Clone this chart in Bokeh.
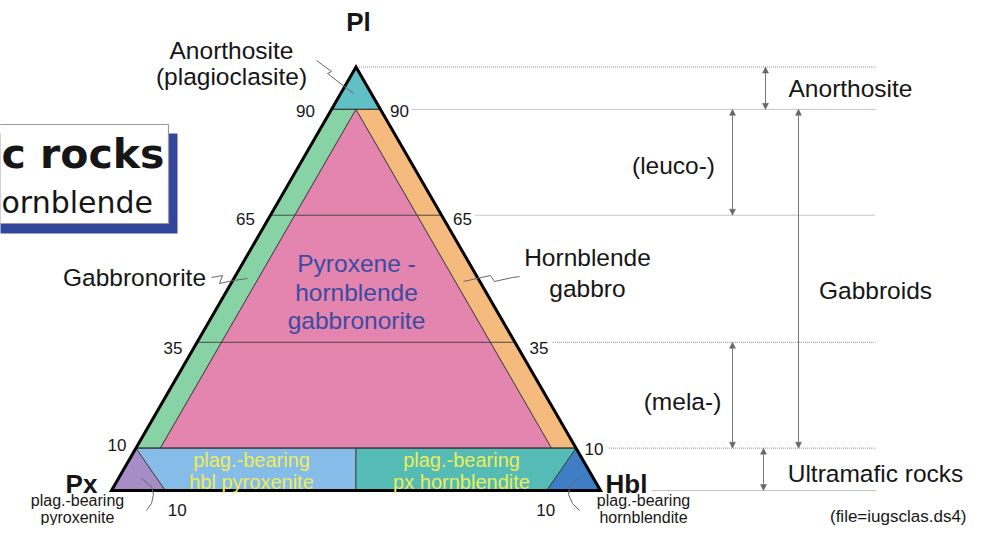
import math
from bokeh.plotting import figure
from bokeh.models import Range1d, Arrow, NormalHead
from bokeh.embed import file_html
from bokeh.resources import INLINE
from bokeh.core.properties import value

# ---------------- data: ternary compositions (% Pl, Px, Hbl) ----------------
anorthosite_field = [(100, 0, 0), (90, 10, 0), (90, 0, 10)]
gabbronorite_field = [(90, 10, 0), (10, 90, 0), (10, 85, 5), (90, 5, 5)]
px_hbl_gabbronorite_field = [(90, 5, 5), (10, 85, 5), (10, 5, 85)]
hbl_gabbro_field = [(90, 5, 5), (10, 5, 85), (10, 0, 90), (90, 0, 10)]
plag_pyroxenite_field = [(0, 100, 0), (10, 90, 0), (0, 89, 11)]
plag_hbl_pyroxenite_field = [(10, 90, 0), (10, 45, 45), (0, 50, 50), (0, 89, 11)]
plag_px_hornblendite_field = [(10, 45, 45), (10, 0, 90), (0, 11, 89), (0, 50, 50)]
plag_hornblendite_field = [(0, 0, 100), (10, 0, 90), (0, 11, 89)]

fields = [anorthosite_field, gabbronorite_field, px_hbl_gabbronorite_field,
          hbl_gabbro_field, plag_pyroxenite_field, plag_hbl_pyroxenite_field,
          plag_px_hornblendite_field, plag_hornblendite_field]
field_colors = ["#60c0c6", "#88d3a6", "#e485af", "#f4ba7e",
                "#a68dc6", "#86bce8", "#54bcb5", "#3f7dc4"]

pl_levels = [90, 65, 35, 10]
pl_level_labels = ["90", "65", "35", "10"]
base_tick_hbl = [11, 89]
base_tick_labels = ["10", "10"]

guide_levels = [100, 90, 65, 35, 10, 0]

range_names = ["Anorthosite", "(leuco-)", "Gabbroids", "(mela-)", "Ultramafic rocks"]
range_low = [90, 65, 10, 10, 0]
range_high = [100, 90, 90, 35, 10]

# ---------------- layout ----------------
W, H = 968, 525
SCALE = 489.0            # px per unit of triangle side
PX0, PY0 = 111.0, 490.0  # pixel position of the Px corner
S3 = math.sqrt(3) / 2


def tern(c):
    pl, px, hbl = c
    s = pl + px + hbl
    return (hbl + pl / 2.0) / s, pl / s * S3


def P(sx, sy):
    return (sx - PX0) / SCALE, (PY0 - sy) / SCALE


x0 = (0 - PX0) / SCALE
y0 = (PY0 - H) / SCALE
p = figure(width=W, height=H, x_range=Range1d(x0, x0 + W / SCALE),
           y_range=Range1d(y0, y0 + H / SCALE), output_backend="svg",
           toolbar_location=None, min_border=0, x_axis_type=None, y_axis_type=None)
p.grid.visible = False
p.outline_line_color = None
p.background_fill_color = "white"
p.border_fill_color = "white"

FONT = "Liberation Sans"
INK = "#161616"


def label(txt, sx, sy, size, color=INK, bold=False, align="center", font=FONT):
    x, y = P(sx, sy)
    p.text(x=[x], y=[y], text=[txt], text_font=value(font),
           text_font_size=f"{size}px", text_color=color, text_align=align,
           text_baseline="middle", text_font_style="bold" if bold else "normal")


def poly_line(pts, color="#777", width=1.0, dash="solid"):
    xs, ys = zip(*[P(a, b) for a, b in pts])
    p.line(list(xs), list(ys), line_color=color, line_width=width, line_dash=dash)


# ---------------- title box (slide fragment) ----------------
bx0, by0 = P(-5, 133)
bx1, by1 = P(177, 233)
p.quad(left=[bx0], right=[bx1], top=[by0], bottom=[by1], fill_color="#34469c", line_color=None)
bx0, by0 = P(-5, 124)
bx1, by1 = P(168, 223)
p.quad(left=[bx0], right=[bx1], top=[by0], bottom=[by1], fill_color="white",
       line_color="#9a9a9a", line_width=1.2)
label("c rocks", 1, 153, 41, bold=True, align="left", font="DejaVu Sans")
label("ornblende", 1, 202, 30, align="left", font="DejaVu Sans")

# ---------------- fields ----------------
xs, ys = [], []
for f in fields:
    pts = [tern(c) for c in f]
    xs.append([q[0] for q in pts])
    ys.append([q[1] for q in pts])
p.patches(xs, ys, fill_color=field_colors, line_color="#3c3c3c", line_width=0.9)

# Pl level lines across the triangle
lx, ly = [], []
for lv in pl_levels:
    a = tern((lv, 100 - lv, 0))
    b = tern((lv, 0, 100 - lv))
    lx.append([a[0], b[0]])
    ly.append([a[1], b[1]])
p.multi_line(lx, ly, line_color="#3c3c3c", line_width=0.9)

# triangle outline
corners = [tern((0, 100, 0)), tern((0, 0, 100)), tern((100, 0, 0))]
p.patch([c[0] for c in corners], [c[1] for c in corners], fill_color=None,
        line_color="black", line_width=3, line_join="miter")

# ---------------- tick labels ----------------
left_off = [-26, -25, -24, -19]
right_off = [19, 21, 24, 18]
left_dy = [2, 4, 6, -3]
right_dy = [2, 4, 6, 1]
for lv, txt, lo, ro, ldy, rdy in zip(pl_levels, pl_level_labels, left_off, right_off, left_dy, right_dy):
    a = tern((lv, 100 - lv, 0))
    b = tern((lv, 0, 100 - lv))
    p.text(x=[a[0] + lo / SCALE], y=[a[1] - ldy / SCALE], text=[txt], text_font=value(FONT),
           text_font_size="17px", text_color=INK, text_align="center", text_baseline="middle")
    p.text(x=[b[0] + ro / SCALE], y=[b[1] - rdy / SCALE], text=[txt], text_font=value(FONT),
           text_font_size="17px", text_color=INK, text_align="center", text_baseline="middle")
base_dx = [12, -1]
for h, txt, dx in zip(base_tick_hbl, base_tick_labels, base_dx):
    c = tern((0, 100 - h, h))
    p.text(x=[c[0] + dx / SCALE], y=[c[1] - 19 / SCALE], text=[txt], text_font=value(FONT),
           text_font_size="17px", text_color=INK, text_align="center", text_baseline="middle")

# ---------------- dotted guide lines & range arrows ----------------
guide_start_off = [3, 32, 34, 38, 33, 52]
gx_end = P(875, 0)[0]
for lv, off in zip(guide_levels, guide_start_off):
    e = tern((lv, 0, 100 - lv)) if lv < 100 else tern((100, 0, 0))
    p.line([e[0] + off / SCALE, gx_end], [e[1], e[1]], line_color="#8a8a8a",
           line_width=1, line_dash="1 1")

arrow_sx = [765, 732, 798, 732, 763]
for lo, hi, sx in zip(range_low, range_high, arrow_sx):
    x = P(sx, 0)[0]
    ylo = tern((lo, 0, 100 - lo))[1] if lo < 100 else S3
    yhi = tern((hi, 0, 100 - hi))[1] if hi < 100 else S3
    p.add_layout(Arrow(x_start=x, y_start=ylo, x_end=x, y_end=yhi,
                       start=NormalHead(size=6, fill_color="#666", line_color="#666", line_width=0.5),
                       end=NormalHead(size=6, fill_color="#666", line_color="#666", line_width=0.5),
                       line_color="#777", line_width=1))

range_label_pos = [(850, 88), (673, 165), (875, 290), (682, 401), (875, 473)]
for name, (sx, sy) in zip(range_names, range_label_pos):
    label(name, sx, sy, 24.5)

# ---------------- apex labels ----------------
label("Pl", 358, 21, 26, bold=True)
label("Px", 81, 483, 26, bold=True)
label("Hbl", 626, 483, 26, bold=True)

# ---------------- field labels ----------------
label("Anorthosite", 231, 50, 24.5)
label("(plagioclasite)", 231, 76, 24.5)
label("Gabbronorite", 134, 277, 24.5)
label("Hornblende", 587, 257, 24.5)
label("gabbro", 587, 288, 24.5)
PYX = "#3b4ba2"
label("Pyroxene -", 356, 263, 24.5, color=PYX)
label("hornblende", 356, 292, 24.5, color=PYX)
label("gabbronorite", 356, 320, 24.5, color=PYX)
YEL = "#eeec5a"
label("plag.-bearing", 251, 459, 20, color=YEL)
label("hbl pyroxenite", 251, 481, 20, color=YEL)
label("plag.-bearing", 461, 459, 20, color=YEL)
label("px hornblendite", 461, 481, 20, color=YEL)
label("plag.-bearing", 77, 500, 16)
label("pyroxenite", 77, 517, 16)
label("plag.-bearing", 643, 500, 16)
label("hornblendite", 643, 517, 16)
label("(file=iugsclas.ds4)", 966, 516, 17, align="right")

# ---------------- leader lines ----------------
poly_line([(316, 60), (331, 71), (327, 73), (353, 93)], color="#666")
poly_line([(211, 277), (222, 275), (219, 283), (233, 280), (247, 278)], color="#666")
poly_line([(463, 281), (490, 275), (494, 281), (512, 277), (519, 276)], color="#666")
poly_line([(141, 478), (151, 486), (153, 494), (151, 503), (146, 510)], color="#666")
poly_line([(577, 478), (569, 486), (568, 494), (572, 503), (579, 510)], color="#666")

open("out.html", "w").write(file_html(p, INLINE))
